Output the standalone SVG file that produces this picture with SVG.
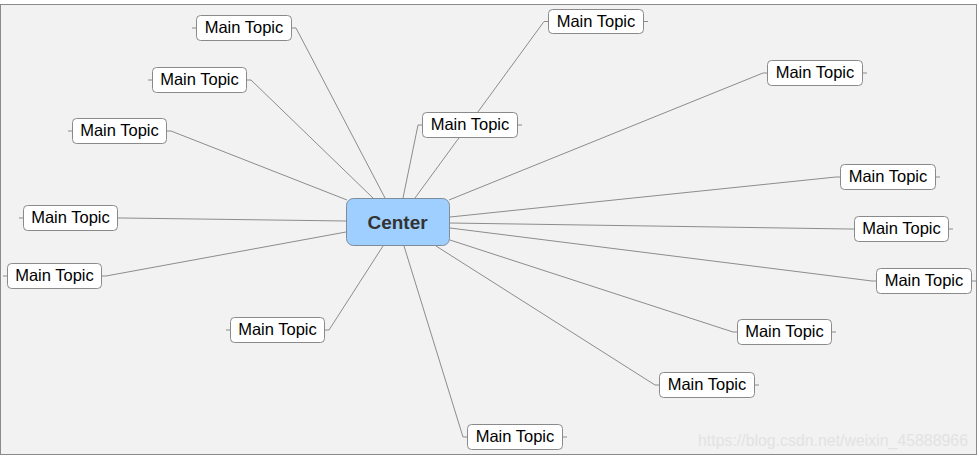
<svg xmlns="http://www.w3.org/2000/svg" width="979" height="459" viewBox="0 0 979 459">
<style>
.bg{fill:#f2f2f2;stroke:#8a8a8a;stroke-width:1}
.c{fill:none;stroke:#8c8c8c;stroke-width:1}
.t{fill:none;stroke:#8c8c8c;stroke-width:1}
.box{fill:#ffffff;stroke:#8a8a8a;stroke-width:1}
.lbl{font-family:"Liberation Sans",Arial,sans-serif;font-size:16.5px;fill:#000;text-anchor:middle}
.ctr{fill:#9ecfff;stroke:#7f8c99;stroke-width:1}
.ctl{font-family:"Liberation Sans",Arial,sans-serif;font-size:19px;font-weight:bold;fill:#333;text-anchor:middle}
.wm{font-family:"Liberation Sans",Arial,sans-serif;font-size:16px;fill:#e2e2e2}
</style>
<rect width="979" height="459" fill="#ffffff"/>
<rect class="bg" x="0.5" y="4.5" width="976" height="450"/>
<g id="connectors">
<polyline class="c" points="291.5,28 296,28 385,198"/>
<polyline class="c" points="246.5,80 251,80 373,198"/>
<polyline class="c" points="166.5,131 171,131 347,200"/>
<polyline class="c" points="117.5,218 122,218 346,221"/>
<polyline class="c" points="101.5,276 106,276 346,232"/>
<polyline class="c" points="324.5,330 329,330 383,246"/>
<polyline class="c" points="467.5,437 463,437 404,246"/>
<polyline class="c" points="659.5,385 655,385 436,246"/>
<polyline class="c" points="737.5,332 733,332 450,240"/>
<polyline class="c" points="876.5,281 872,281 450,228"/>
<polyline class="c" points="854.5,229 850,229 450,223"/>
<polyline class="c" points="840.5,177 836,177 450,217"/>
<polyline class="c" points="767.5,73 763,73 449,200"/>
<polyline class="c" points="548.5,21.5 544,21.5 415,198"/>
<polyline class="c" points="422.5,125 418,125 403,198"/>
</g>
<g id="center">
<rect class="ctr" x="346.5" y="198.5" width="103" height="47" rx="7"/>
<text class="ctl" x="397.5" y="228.5">Center</text>
</g>
<g id="n1"><line class="t" x1="192" y1="28" x2="196.5" y2="28"/><rect class="box" x="196.5" y="15.5" width="95" height="25" rx="4"/><text class="lbl" x="244" y="33">Main Topic</text></g>
<g id="n2"><line class="t" x1="148" y1="80" x2="152.5" y2="80"/><rect class="box" x="152.5" y="67.5" width="94" height="25" rx="4"/><text class="lbl" x="199.5" y="85">Main Topic</text></g>
<g id="n3"><line class="t" x1="68" y1="131" x2="72.5" y2="131"/><rect class="box" x="72.5" y="118.5" width="94" height="25" rx="4"/><text class="lbl" x="119.5" y="136">Main Topic</text></g>
<g id="n4"><line class="t" x1="19" y1="218" x2="23.5" y2="218"/><rect class="box" x="23.5" y="205.5" width="94" height="25" rx="4"/><text class="lbl" x="70.5" y="223">Main Topic</text></g>
<g id="n5"><line class="t" x1="3" y1="276" x2="7.5" y2="276"/><rect class="box" x="7.5" y="263.5" width="94" height="25" rx="4"/><text class="lbl" x="54.5" y="281">Main Topic</text></g>
<g id="n6"><line class="t" x1="226" y1="330" x2="230.5" y2="330"/><rect class="box" x="230.5" y="317.5" width="94" height="25" rx="4"/><text class="lbl" x="277.5" y="335">Main Topic</text></g>
<g id="n7"><line class="t" x1="562.5" y1="437" x2="567" y2="437"/><rect class="box" x="467.5" y="424.5" width="95" height="25" rx="4"/><text class="lbl" x="515" y="442">Main Topic</text></g>
<g id="n8"><line class="t" x1="754.5" y1="385" x2="759" y2="385"/><rect class="box" x="659.5" y="372.5" width="95" height="25" rx="4"/><text class="lbl" x="707" y="390">Main Topic</text></g>
<g id="n9"><line class="t" x1="831.5" y1="332" x2="836" y2="332"/><rect class="box" x="737.5" y="319.5" width="94" height="25" rx="4"/><text class="lbl" x="784.5" y="337">Main Topic</text></g>
<g id="n10"><line class="t" x1="971.5" y1="281" x2="976" y2="281"/><rect class="box" x="876.5" y="268.5" width="95" height="25" rx="4"/><text class="lbl" x="924" y="286">Main Topic</text></g>
<g id="n11"><line class="t" x1="948.5" y1="229" x2="953" y2="229"/><rect class="box" x="854.5" y="216.5" width="94" height="25" rx="4"/><text class="lbl" x="901.5" y="234">Main Topic</text></g>
<g id="n12"><line class="t" x1="935.5" y1="177" x2="940" y2="177"/><rect class="box" x="840.5" y="164.5" width="95" height="25" rx="4"/><text class="lbl" x="888" y="182">Main Topic</text></g>
<g id="n13"><line class="t" x1="862.5" y1="73" x2="867" y2="73"/><rect class="box" x="767.5" y="60.5" width="95" height="25" rx="4"/><text class="lbl" x="815" y="78">Main Topic</text></g>
<g id="n14"><line class="t" x1="643.5" y1="21.5" x2="648" y2="21.5"/><rect class="box" x="548.5" y="9.5" width="95" height="24" rx="4"/><text class="lbl" x="596" y="26.5">Main Topic</text></g>
<g id="n15"><line class="t" x1="517.5" y1="125" x2="522" y2="125"/><rect class="box" x="422.5" y="112.5" width="95" height="25" rx="4"/><text class="lbl" x="470" y="130">Main Topic</text></g>
<text class="wm" x="698" y="446" textLength="270" lengthAdjust="spacingAndGlyphs">https://blog.csdn.net/weixin_45888966</text>
</svg>
